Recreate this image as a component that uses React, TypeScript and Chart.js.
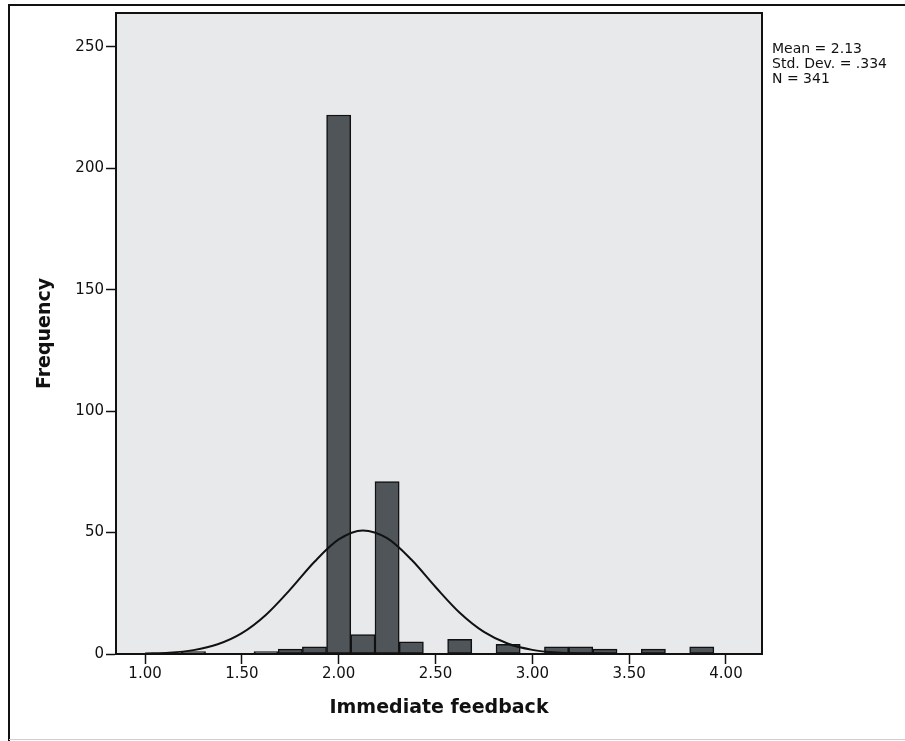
import React, { useEffect, useRef } from "react";
import { Chart, registerables } from "chart.js";

Chart.register(...registerables);

// Histogram bins (bin centers, width 0.125) and frequencies
const binCenters = [
  1.0, 1.125, 1.25, 1.375, 1.5, 1.625, 1.75, 1.875, 2.0, 2.125, 2.25, 2.375,
  2.5, 2.625, 2.75, 2.875, 3.0, 3.125, 3.25, 3.375, 3.5, 3.625, 3.75, 3.875, 4.0,
];
const frequencies = [
  0, 0, 1, 0, 0, 1, 2, 3, 222, 8, 71, 5,
  0, 6, 0, 4, 0, 3, 3, 2, 0, 2, 0, 3, 0,
];

// Fitted normal curve
const curveX = [
  1.0, 1.125, 1.25, 1.375, 1.5, 1.625, 1.75, 1.875, 2.0, 2.125, 2.25, 2.375,
  2.5, 2.625, 2.75, 2.875, 3.0, 3.125, 3.25, 3.375, 3.5,
];
const curveY = [
  0.2, 0.5, 1.6, 4.0, 8.6, 16.2, 26.6, 38.0, 47.2, 50.9, 47.7, 38.9,
  27.6, 17.0, 9.1, 4.2, 1.7, 0.6, 0.2, 0.05, 0.0,
];

const xTickValues = [1.0, 1.5, 2.0, 2.5, 3.0, 3.5, 4.0];
const yTickValues = [0, 50, 100, 150, 200, 250];
const statsLines = ["Mean = 2.13", "Std. Dev. = .334", "N = 341"];
const xTitle = "Immediate feedback";
const yTitle = "Frequency";

const FONT = "'DejaVu Sans', 'Liberation Sans', Arial, sans-serif";

const framePlugin = {
  id: "spssFrame",
  beforeDraw(chart: any) {
    const { ctx, chartArea } = chart;
    ctx.save();
    ctx.fillStyle = "#ffffff";
    ctx.fillRect(0, 0, chart.width, chart.height);
    ctx.fillStyle = "#e8e9eb";
    ctx.fillRect(
      chartArea.left,
      chartArea.top,
      chartArea.right - chartArea.left,
      chartArea.bottom - chartArea.top
    );
    // outer frame
    ctx.strokeStyle = "#111";
    ctx.lineWidth = 2;
    ctx.beginPath();
    ctx.moveTo(9, 741);
    ctx.lineTo(9, 5);
    ctx.lineTo(905, 5);
    ctx.stroke();
    ctx.strokeStyle = "#cfcfcf";
    ctx.lineWidth = 1;
    ctx.beginPath();
    ctx.moveTo(9, 739.5);
    ctx.lineTo(905, 739.5);
    ctx.stroke();
    ctx.restore();
  },
  afterDraw(chart: any) {
    const { ctx, chartArea } = chart;
    ctx.save();
    ctx.strokeStyle = "#111";
    ctx.lineWidth = 2;
    ctx.strokeRect(
      chartArea.left,
      chartArea.top,
      chartArea.right - chartArea.left,
      chartArea.bottom - chartArea.top
    );
    ctx.fillStyle = "#111";
    ctx.font = "14px " + FONT;
    ctx.textBaseline = "middle";
    ctx.textAlign = "left";
    statsLines.forEach((t, i) => {
      ctx.fillText(t, chartArea.right + 10, 49 + i * 15);
    });
    ctx.restore();
  },
};

export default function App() {
  const canvasRef = useRef<HTMLCanvasElement | null>(null);

  useEffect(() => {
    const canvas = canvasRef.current;
    if (!canvas) return;
    const chart = new Chart(canvas, {
      type: "bar",
      data: {
        datasets: [
          {
            type: "line",
            label: "Normal",
            data: curveX.map((x, i) => ({ x, y: curveY[i] })),
            borderColor: "#111",
            borderWidth: 2,
            pointRadius: 0,
            fill: false,
            cubicInterpolationMode: "monotone",
            order: 0,
          } as any,
          {
            type: "bar",
            label: "Frequency",
            data: binCenters.map((x, i) => ({ x, y: frequencies[i] })),
            backgroundColor: "#4f5559",
            borderColor: "#111",
            borderWidth: 1.5,
            borderSkipped: false,
            categoryPercentage: 1,
            barPercentage: 1,
            order: 1,
          } as any,
        ],
      },
      options: {
        responsive: false,
        animation: false,
        devicePixelRatio: 1,
        layout: { padding: { left: 0, top: 13, right: 143, bottom: 0 } },
        plugins: {
          legend: { display: false },
          tooltip: { enabled: false },
        },
        scales: {
          x: {
            type: "linear",
            min: 0.85,
            max: 4.186,
            offset: false,
            afterFit(scale: any) {
              scale.height = 87;
            },
            afterBuildTicks(scale: any) {
              scale.ticks = xTickValues.map((v) => ({ value: v }));
            },
            ticks: {
              color: "#111",
              font: { family: FONT, size: 15 },
              padding: 1,
              maxRotation: 0,
              autoSkip: false,
              callback: (v: any) => Number(v).toFixed(2),
            },
            grid: {
              display: true,
              offset: false,
              drawOnChartArea: false,
              drawTicks: true,
              tickLength: 10,
              tickColor: "#111",
              tickWidth: 1.5,
            },
            border: { display: true, color: "#111", width: 2 },
            title: {
              display: true,
              text: xTitle,
              color: "#111",
              font: { family: FONT, size: 19, weight: "bold" },
              padding: { top: 0, bottom: 22 },
            },
          },
          y: {
            type: "linear",
            min: 0,
            max: 264,
            afterFit(scale: any) {
              scale.width = 116;
            },
            afterBuildTicks(scale: any) {
              scale.ticks = yTickValues.map((v) => ({ value: v }));
            },
            ticks: {
              color: "#111",
              font: { family: FONT, size: 15 },
              padding: 2,
              autoSkip: false,
            },
            grid: {
              display: true,
              offset: false,
              drawOnChartArea: false,
              drawTicks: true,
              tickLength: 10,
              tickColor: "#111",
              tickWidth: 1.5,
            },
            border: { display: true, color: "#111", width: 2 },
            title: {
              display: true,
              text: yTitle,
              color: "#111",
              font: { family: FONT, size: 19, weight: "bold" },
              padding: { top: 34, bottom: 0 },
            },
          },
        },
      } as any,
      plugins: [framePlugin],
    });
    return () => chart.destroy();
  }, []);

  return (
    <div style={{ position: "absolute", left: 0, top: 0, width: 905, height: 741 }}>
      <canvas
        ref={canvasRef}
        width={905}
        height={741}
        style={{ width: 905, height: 741, display: "block" }}
      />
    </div>
  );
}
